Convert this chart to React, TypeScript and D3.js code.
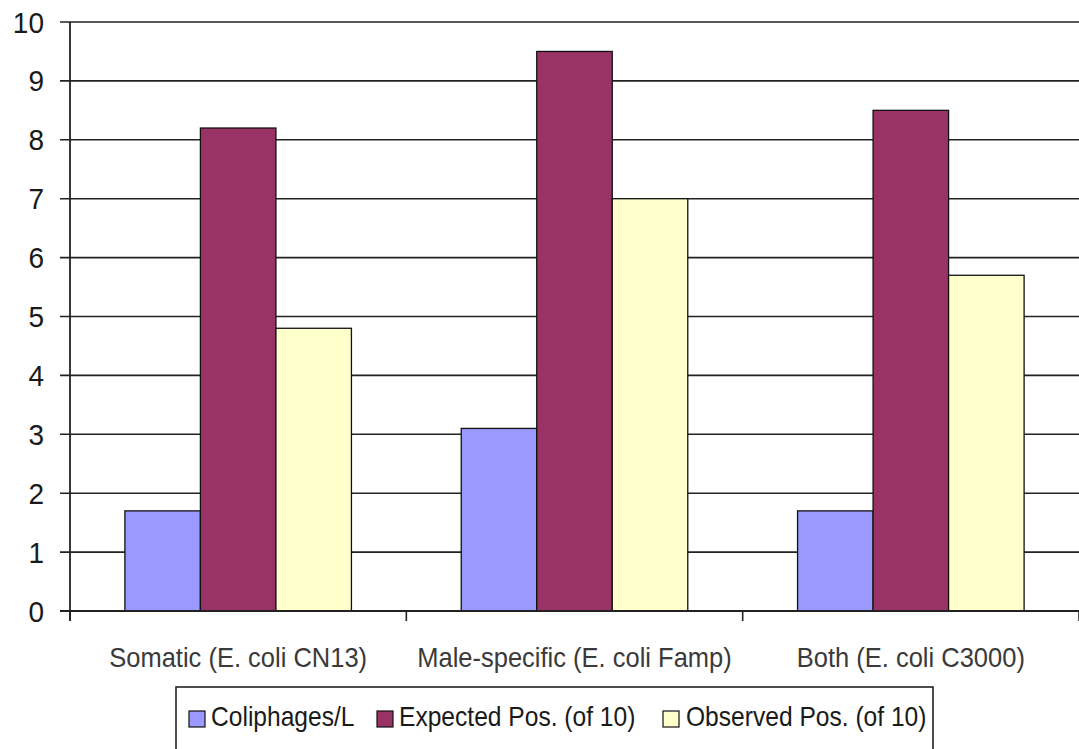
import React from "react";
import * as d3 from "d3";

const categories = ["Somatic (E. coli CN13)", "Male-specific (E. coli Famp)", "Both (E. coli C3000)"];
const seriesNames = ["Coliphages/L", "Expected Pos. (of 10)", "Observed Pos. (of 10)"];
const coliphages = [1.7, 3.1, 1.7];
const expected = [8.2, 9.5, 8.5];
const observed = [4.8, 7.0, 5.7];
const seriesColors = ["#9999ff", "#993366", "#ffffcc"];
const yTicks = [0, 1, 2, 3, 4, 5, 6, 7, 8, 9, 10];

export default function App() {
  const W = 1079, H = 749;
  const left = 70, right = 1079, top = 22, bottom = 611;
  const series = [coliphages, expected, observed];
  const x = d3.scaleBand<string>().domain(categories).range([left, right]).paddingInner(0).paddingOuter(0);
  const inner = d3.scaleBand<number>().domain([0, 1, 2]).range([0, x.bandwidth()]).paddingInner(0).paddingOuter(0.727);
  const y = d3.scaleLinear().domain([0, 10]).range([bottom, top]);
  const font = "'Liberation Sans', Arial, sans-serif";
  const boundaries = [left, ...categories.map((c) => (x(c) as number) + x.bandwidth())];
  const stretched = (tx: number, ty: number, sy: number) => `translate(${tx},${ty}) scale(1,${sy})`;
  return (
    <svg width={W} height={H} style={{ position: "absolute", left: 0, top: 0, background: "#fff" }}>
      <rect x={0} y={0} width={W} height={H} fill="#fff" />
      {yTicks.map((t) => (
        <g key={t}>
          <line x1={60} x2={right} y1={y(t)} y2={y(t)} stroke="#222" strokeWidth={1.6} />
          <text transform={stretched(44, y(t) + 10.5, 1.08)} textAnchor="end" fontFamily={font} fontSize={28} fill="#1a1a1a">{t}</text>
        </g>
      ))}
      {series.map((vals, si) =>
        vals.map((v, ci) => {
          const bx = (x(categories[ci]) as number) + (inner(si) as number);
          return (
            <rect key={`${si}-${ci}`} x={bx} y={y(v)} width={inner.bandwidth()} height={y(0) - y(v)}
              fill={seriesColors[si]} stroke="#111" strokeWidth={1.3} />
          );
        })
      )}
      <line x1={left} x2={left} y1={top} y2={bottom + 10} stroke="#222" strokeWidth={1.8} />
      <line x1={60} x2={right} y1={bottom} y2={bottom} stroke="#222" strokeWidth={1.8} />
      {boundaries.map((b, i) => (
        <line key={i} x1={b} x2={b} y1={bottom} y2={bottom + 10} stroke="#222" strokeWidth={1.6} />
      ))}
      {categories.map((c) => (
        <text key={c} transform={stretched((x(c) as number) + x.bandwidth() / 2, 667, 1.12)} textAnchor="middle"
          fontFamily={font} fontSize={25.5} fill="#3a3a3a">{c}</text>
      ))}
      <rect x={176} y={687} width={757} height={80} fill="#fff" stroke="#222" strokeWidth={1.6} />
      {(() => {
        const swatchX = [189, 377, 663];
        const textX = [211, 399, 686];
        return seriesNames.map((n, i) => (
          <g key={n}>
            <rect x={swatchX[i]} y={711} width={16} height={16} fill={seriesColors[i]} stroke="#111" strokeWidth={1.2} />
            <text transform={stretched(textX[i], 726, 1.14)} fontFamily={font} fontSize={24.6} fill="#1a1a1a">{n}</text>
          </g>
        ));
      })()}
    </svg>
  );
}
